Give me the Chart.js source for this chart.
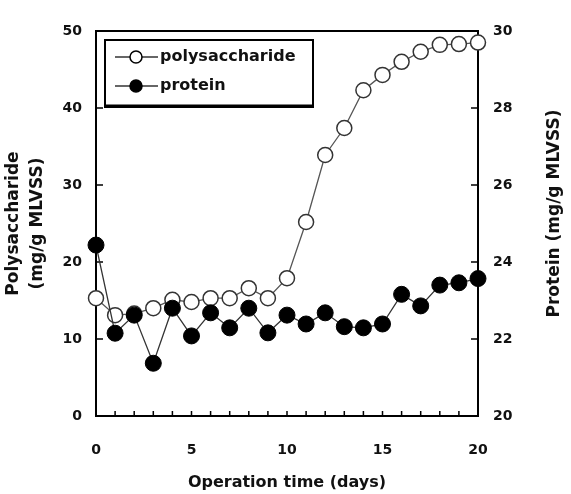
<html>
<head>
    <meta charset="utf-8" />
    <title>Polysaccharide / protein</title>
    <script src="https://cdn.jsdelivr.net/npm/chart.js"></script>
    <style>
        body { margin: 0; background: #fff; }
    </style>
</head>
<body>
<div style="width: 571px; height: 494px;">
    <canvas id="chart"></canvas>
</div>

<script>
    const days = [0, 1, 2, 3, 4, 5, 6, 7, 8, 9, 10, 11, 12, 13, 14, 15, 16, 17, 18, 19, 20];
    const polysaccharide = [15.3, 13.1, 13.3, 14.0, 15.1, 14.8, 15.3, 15.3, 16.6, 15.3, 17.9,
        25.2, 33.9, 37.4, 42.3, 44.3, 46.0, 47.3, 48.2, 48.3, 48.5];
    const protein = [24.44, 22.15, 22.62, 21.37, 22.8, 22.08, 22.68, 22.29, 22.8, 22.16, 22.62,
        22.39, 22.68, 22.32, 22.29, 22.39, 23.16, 22.86, 23.4, 23.46, 23.57];
    const leftTicks = [0, 10, 20, 30, 40, 50];
    const rightTicks = [20, 22, 24, 26, 28, 30];

    Chart.defaults.font.family = 'DejaVu Sans';
    Chart.defaults.font.weight = 'bold';
    Chart.defaults.color = '#111';

    const toPoints = (ys) => days.map((d, i) => ({ x: d, y: ys[i] }));

    // frame + inward tick marks, drawn under the markers
    const framePlugin = {
        id: 'frame',
        beforeDatasetsDraw(chart) {
            const { ctx, chartArea: a, scales } = chart;
            ctx.save();
            ctx.strokeStyle = '#000';
            ctx.lineWidth = 2;
            ctx.strokeRect(a.left, a.top, a.right - a.left, a.bottom - a.top);
            ctx.lineWidth = 1.5;
            ctx.beginPath();
            days.forEach(d => {
                const x = scales.x.getPixelForValue(d);
                ctx.moveTo(x, a.bottom);
                ctx.lineTo(x, a.bottom - 5);
            });
            leftTicks.forEach(v => {
                const y = scales.y.getPixelForValue(v);
                ctx.moveTo(a.left, y);
                ctx.lineTo(a.left + 7, y);
            });
            rightTicks.forEach(v => {
                const y = scales.y1.getPixelForValue(v);
                ctx.moveTo(a.right, y);
                ctx.lineTo(a.right - 7, y);
            });
            ctx.stroke();
            ctx.restore();
        }
    };

    // boxed legend + right axis title (reads bottom to top like the left one)
    const extrasPlugin = {
        id: 'extras',
        afterDraw(chart) {
            const { ctx, chartArea: a } = chart;
            ctx.save();
            ctx.fillStyle = '#fff';
            ctx.fillRect(105, 40, 208, 67);
            ctx.strokeStyle = '#000';
            ctx.lineWidth = 2;
            ctx.strokeRect(105, 40, 208, 67);
            ctx.lineWidth = 3;
            ctx.beginPath();
            ctx.moveTo(105, 106);
            ctx.lineTo(313, 106);
            ctx.stroke();

            const rows = [
                { text: 'polysaccharide', y: 57, fill: '#fff' },
                { text: 'protein', y: 86, fill: '#000' }
            ];
            rows.forEach(r => {
                ctx.strokeStyle = '#333';
                ctx.lineWidth = 1.3;
                ctx.beginPath();
                ctx.moveTo(115, r.y);
                ctx.lineTo(158, r.y);
                ctx.stroke();
                ctx.beginPath();
                ctx.arc(136, r.y, 6, 0, Math.PI * 2);
                ctx.fillStyle = r.fill;
                ctx.fill();
                ctx.lineWidth = 1.5;
                ctx.strokeStyle = '#000';
                ctx.stroke();
                ctx.fillStyle = '#111';
                ctx.font = 'bold 16px "DejaVu Sans"';
                ctx.textAlign = 'left';
                ctx.textBaseline = 'middle';
                ctx.fillText(r.text, 160, r.y);
            });

            ctx.translate(555, (a.top + a.bottom) / 2 - 10);
            ctx.rotate(-Math.PI / 2);
            ctx.font = 'bold 17px "DejaVu Sans"';
            ctx.textAlign = 'center';
            ctx.textBaseline = 'middle';
            ctx.fillText('Protein (mg/g MLVSS)', 0, 0);
            ctx.restore();
        }
    };

    new Chart(document.getElementById('chart'), {
        type: 'line',
        data: {
            datasets: [{
                label: 'protein',
                data: toPoints(protein),
                yAxisID: 'y1',
                order: 0,
                borderColor: '#333',
                borderWidth: 1.3,
                pointRadius: 8,
                pointBackgroundColor: '#000',
                pointBorderColor: '#000',
                pointBorderWidth: 1,
                clip: false
            }, {
                label: 'polysaccharide',
                data: toPoints(polysaccharide),
                yAxisID: 'y',
                order: 1,
                borderColor: '#555',
                borderWidth: 1.3,
                pointRadius: 7.5,
                pointBackgroundColor: '#fff',
                pointBorderColor: '#333',
                pointBorderWidth: 1.5,
                clip: false
            }]
        },
        options: {
            responsive: true,
            maintainAspectRatio: false,
            animation: false,
            layout: { padding: { top: 31, left: 0, right: 0, bottom: 0 } },
            plugins: {
                legend: { display: false },
                tooltip: { enabled: false }
            },
            scales: {
                x: {
                    type: 'linear',
                    min: 0,
                    max: 20,
                    grid: { display: false, drawTicks: false },
                    border: { display: false },
                    ticks: { stepSize: 5, padding: 26, font: { size: 14 } },
                    title: {
                        display: true,
                        text: 'Operation time (days)',
                        font: { size: 16 },
                        padding: { top: 0, bottom: 2 }
                    },
                    afterFit(s) { s.height = 78; }
                },
                y: {
                    position: 'left',
                    min: 0,
                    max: 50,
                    grid: { display: false, drawTicks: false },
                    border: { display: false },
                    ticks: { stepSize: 10, padding: 14, font: { size: 14 } },
                    title: {
                        display: true,
                        text: ['Polysaccharide', '(mg/g MLVSS)'],
                        font: { size: 17, lineHeight: 1.45 },
                        padding: { top: 1, bottom: 0 }
                    },
                    afterFit(s) { s.width = 96; }
                },
                y1: {
                    position: 'right',
                    min: 20,
                    max: 30,
                    grid: { display: false, drawTicks: false },
                    border: { display: false },
                    ticks: { stepSize: 2, padding: 15, font: { size: 14 } },
                    afterFit(s) { s.width = 93; }
                }
            }
        },
        plugins: [framePlugin, extrasPlugin]
    });
</script>
</body>
</html>
